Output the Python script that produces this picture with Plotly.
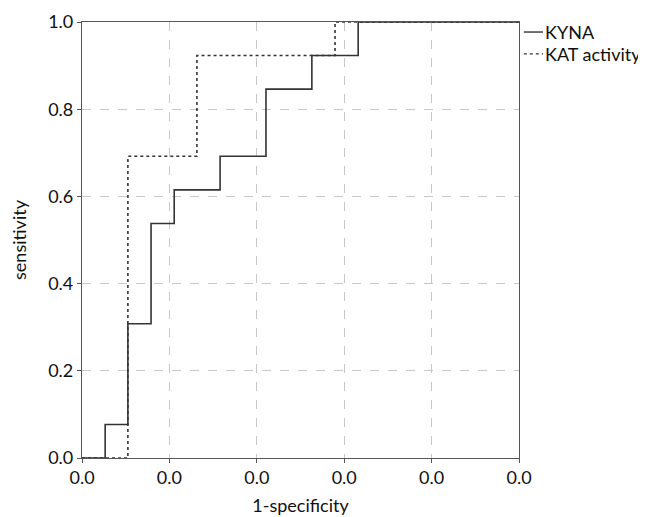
import plotly.graph_objects as go

# ROC curve data (1-specificity, sensitivity)
kyna_fpr = [0.0, 0.053, 0.105, 0.158, 0.211, 0.316, 0.421, 0.526, 0.632, 1.0]
kyna_tpr = [0.0, 0.077, 0.308, 0.538, 0.615, 0.692, 0.846, 0.923, 1.0, 1.0]
kat_fpr = [0.0, 0.105, 0.263, 0.579, 1.0]
kat_tpr = [0.0, 0.692, 0.923, 1.0, 1.0]

x_tickvals = [0.0, 0.2, 0.4, 0.6, 0.8, 1.0]
x_ticktext = ["0.0", "0.0", "0.0", "0.0", "0.0", "0.0"]
y_tickvals = [0.0, 0.2, 0.4, 0.6, 0.8, 1.0]
y_ticktext = ["0.0", "0.2", "0.4", "0.6", "0.8", "1.0"]
series_names = ["KYNA", "KAT activity"]

FONT = "Lato"
FS = 18
LINE = "#333333"
AX = "#555555"

fig = go.Figure()
fig.add_trace(go.Scatter(x=kyna_fpr, y=kyna_tpr, mode="lines", line_shape="hv",
                         line=dict(color=LINE, width=1.6), name=series_names[0],
                         showlegend=False))
fig.add_trace(go.Scatter(x=kat_fpr, y=kat_tpr, mode="lines", line_shape="hv",
                         line=dict(color=LINE, width=1.6, dash="dot"), name=series_names[1],
                         showlegend=False))

# custom compact legend to the right of the plot
legend_items = [(series_names[0], "solid", 0.977), (series_names[1], "dot", 0.927)]
for name, dash, yy in legend_items:
    fig.add_shape(type="line", xref="paper", yref="paper", x0=1.011, x1=1.055, y0=yy, y1=yy,
                  line=dict(color=LINE, width=1.4, dash=dash))
    fig.add_annotation(xref="paper", yref="paper", x=1.057, y=yy, text=name, showarrow=False,
                       xanchor="left", yanchor="middle", borderpad=0,
                       font=dict(family=FONT, size=FS, color="#111"))

axis_common = dict(
    showline=True, linecolor=AX, linewidth=1.2, mirror=True,
    ticks="outside", ticklen=4, tickcolor=AX, tickwidth=1.2,
    showgrid=True, gridcolor="#c8c8c8", gridwidth=1, griddash="dash",
    zeroline=False, tickfont=dict(family=FONT, size=FS, color="#111"),
    automargin=False,
)

fig.update_xaxes(range=[0, 1], tickvals=x_tickvals, ticktext=x_ticktext, ticklabelstandoff=-1,
                 title=dict(text="1-specificity", font=dict(family=FONT, size=FS, color="#111"),
                            standoff=12), **axis_common)
fig.update_yaxes(range=[0, 1], tickvals=y_tickvals, ticktext=y_ticktext,
                 title=dict(text="sensitivity", font=dict(family=FONT, size=FS, color="#111"),
                            standoff=22), **axis_common)

# page body has an 8px default margin, so the figure is sized 8px smaller
fig.update_layout(
    width=638, height=509,
    margin=dict(l=74, r=127, t=14, b=59),
    paper_bgcolor="white", plot_bgcolor="white",
    font=dict(family=FONT, size=FS, color="#111"),
    showlegend=False,
)

fig.write_html("out.html")
